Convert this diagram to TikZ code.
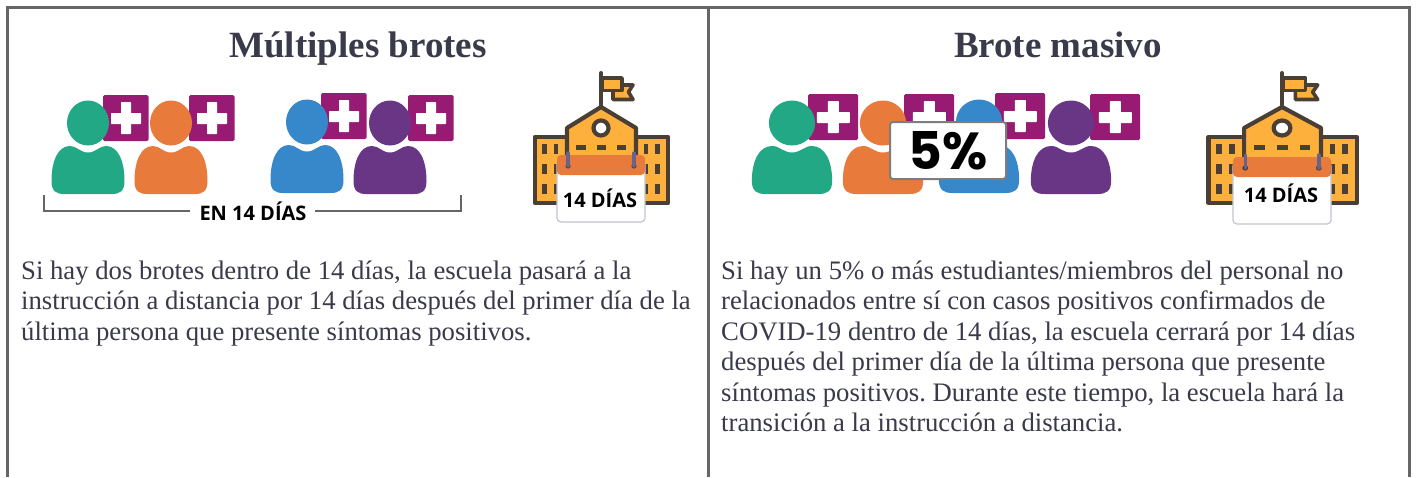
\documentclass[tikz,border=0pt]{standalone}
\usepackage{fontspec}
\setmainfont{Liberation Serif}
\newfontfamily\capsfont{Open Sans}
\newfontfamily\pctfont{Poppins}
\definecolor{frameg}{HTML}{666666}
\definecolor{inkt}{HTML}{3A3A4A}
\definecolor{plusm}{HTML}{971B72}
\definecolor{pgreen}{HTML}{22A884}
\definecolor{porange}{HTML}{E87B3C}
\definecolor{pblue}{HTML}{3688CA}
\definecolor{ppurple}{HTML}{693686}
\definecolor{schooly}{HTML}{FDB03B}
\definecolor{schoold}{HTML}{4A3F35}
\definecolor{ringc}{HTML}{66648A}
\definecolor{calb}{HTML}{C4C4D0}
\tikzset{
  frameline/.style={draw=frameg,line width=3pt},
  bracketline/.style={draw=frameg,line width=1.4pt},
  titletext/.style={anchor=base,font=\fontsize{37}{37}\selectfont\bfseries,text=inkt,inner sep=0pt},
  bodytext/.style={anchor=north west,align=left,inner sep=0pt,text=inkt,font=\frenchspacing\fontsize{26.7}{30.5}\selectfont},
  capstext/.style={anchor=center,inner sep=0pt,text=black,font=\capsfont\bfseries\fontsize{20}{20}\selectfont},
  schoolline/.style={draw=schoold,line width=4.2pt,fill=schooly,line join=round},
  windowbar/.style={fill=schoold}
}
% #1 head x, #2 head y, #3 xscale, #4 colour, #5 badge left, #6 badge top
\newcommand{\personicon}[6]{%
  \begin{scope}[shift={(#5,#6)},xscale=#3]
    \fill[plusm,rounded corners=1.5pt] (0,0) rectangle (45.5,46);
    \fill[white,rounded corners=0.7pt] (18,7) rectangle (28,39);
    \fill[white,rounded corners=0.7pt] (8,18) rectangle (38,29);
  \end{scope}
  \begin{scope}[shift={(#1,#2)},xscale=#3]
    \fill[#4] (0,0) ellipse (21 and 22.5);
    \fill[#4] (-36.5,58) .. controls (-36.5,68) and (-32,71) .. (-24,71)
      -- (24,71) .. controls (32,71) and (36.5,68) .. (36.5,58)
      .. controls (36.5,38) and (30,23) .. (18,23)
      .. controls (11,23) and (8,29.5) .. (0,29.5)
      .. controls (-8,29.5) and (-11,23) .. (-18,23)
      .. controls (-30,23) and (-36.5,38) .. (-36.5,58) -- cycle;
  \end{scope}}
% #1 origin x, #2 origin y, #3 xscale, #4 calendar shift y
\newcommand{\schoolicon}[4]{%
  \begin{scope}[shift={(#1,#2)},xscale=#3]
    \draw[schoolline,line width=3.6pt] (102,25) -- (113,25) -- (108.5,32) -- (113,39.5) -- (93,39.5) -- (93,30) -- cycle;
    \draw[schoolline,line width=3.6pt] (82,18) -- (102,18) -- (102,30.5) -- (82,30.5) -- cycle;
    \draw[schoold,line width=4pt,line cap=round] (81,13) -- (81,47);
    \draw[schoolline] (15,77) rectangle (148,143);
    \draw[schoolline] (47,143) -- (47,68) -- (81,47) -- (116,68) -- (116,143);
    \draw[draw=schoold,line width=4.2pt,fill=white] (81,68) circle (7.5);
    \foreach \wx in {24.5,36,126,137.5}{\foreach \wy in {89,109,129}{
      \fill[windowbar] (\wx-2.4,\wy-5.2) rectangle (\wx+2.4,\wy+5.2);}}
    \foreach \wx in {61,81.5,101.5}{\fill[windowbar] (\wx-4.7,84.5) rectangle (\wx+4.7,89.5);}
    \begin{scope}[yshift=#4]
      \draw[calb,fill=white,line width=1.2pt,rounded corners=4pt] (37,100) rectangle (125,162);
      \fill[porange,rounded corners=4pt] (37,115) -- (37,95) -- (125,95) -- (125,115) -- cycle;
      \fill[schoold] (48,106) circle (2.6) (114,106) circle (2.6);
      \draw[ringc,line width=3.4pt,line cap=round] (48,93) -- (48,106);
      \draw[ringc,line width=3.4pt,line cap=round] (114,93) -- (114,106);
    \end{scope}
  \end{scope}}
\begin{document}
\begin{tikzpicture}[x=1pt,y=-1pt]
\useasboundingbox (0,0) rectangle (1418,477);
\fill[white] (0,0) rectangle (1418,477);
\coordinate (fa) at (7.5,477); \coordinate (fb) at (7.5,7.5);
\coordinate (fc) at (1409.5,7.5); \coordinate (fd) at (1409.5,477);
\coordinate (ma) at (708.5,7.5); \coordinate (mb) at (708.5,477);
\draw[frameline] (fa) -- (fb) -- (fc) -- (fd);
\draw[frameline] (ma) -- (mb);
\node[titletext] (t1) at (358,57) {Múltiples brotes};
\node[titletext] (t2) at (1058,57) {Brote masivo};
\personicon{88}{123}{1}{pgreen}{103}{95}
\personicon{171}{123}{1}{porange}{189}{95}
\personicon{307}{122}{1}{pblue}{321}{93}
\personicon{390}{123}{1}{ppurple}{408}{95}
\coordinate (b1) at (44,195); \coordinate (b2) at (44,211); \coordinate (b3) at (190,211);
\coordinate (b4) at (315,211); \coordinate (b5) at (461,211); \coordinate (b6) at (461,195);
\draw[bracketline] (b1) -- (b2) -- (b3);
\draw[bracketline] (b4) -- (b5) -- (b6);
\node[capstext] (en) at (253,211) {EN 14 DÍAS};
\personicon{792}{123}{1.1}{pgreen}{808}{94}
\personicon{883}{123}{1.1}{porange}{904}{94}
\personicon{979}{122}{1.1}{pblue}{995}{93}
\personicon{1071}{123}{1.1}{ppurple}{1090}{94}
\node[draw=frameg!85,line width=2pt,fill=white,rounded corners=3pt,minimum width=116pt,minimum height=57pt,inner sep=0pt,font=\pctfont\bfseries\fontsize{52}{52}\selectfont] (pct) at (948,150.5) {5\%};
\schoolicon{520}{60}{1}{0}
\node[capstext] (d1) at (600,198) {14 DÍAS};
\schoolicon{1191.7}{60}{1.115}{-2}
\node[capstext] (d2) at (1281,193) {14 DÍAS};
\node[bodytext] (p1) at (21,260.5) {Si hay dos brotes dentro de 14 días, la escuela pasará a la\\instrucción a distancia por 14 días después del primer día de la\\última persona que presente síntomas positivos.};
\node[bodytext] (p2) at (721,260.5) {Si hay un 5\% o más estudiantes/miembros del personal no\\relacionados entre sí con casos positivos confirmados de\\COVID-19 dentro de 14 días, la escuela cerrará por 14 días\\después del primer día de la última persona que presente\\síntomas positivos. Durante este tiempo, la escuela hará la\\transición a la instrucción a distancia.};
\end{tikzpicture}
\end{document}
